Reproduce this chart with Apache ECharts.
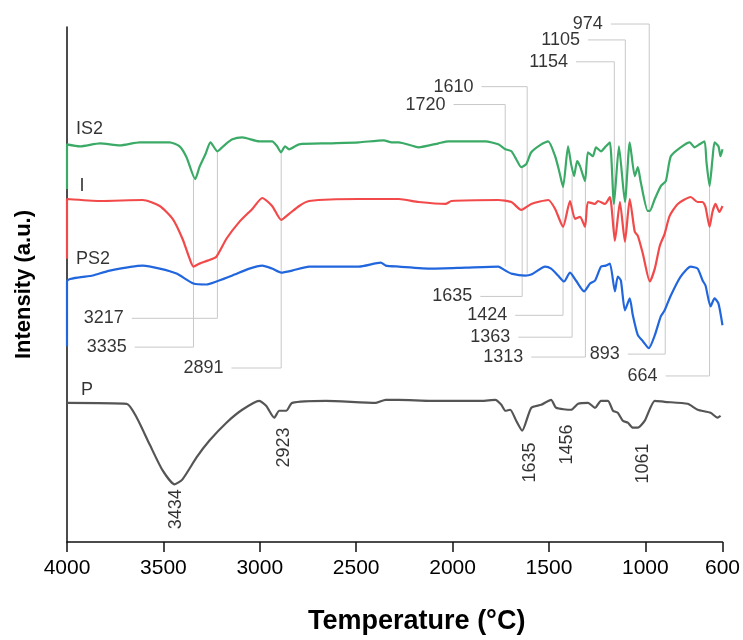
<!DOCTYPE html>
<html>
<head>
<meta charset="utf-8">
<script src="https://cdn.jsdelivr.net/npm/echarts@6/dist/echarts.min.js"></script>
<style>
  html, body { margin: 0; padding: 0; background: #fff; }
  #chart { width: 743px; height: 640px; }
</style>
</head>
<body>
<div id="chart"></div>
<script>
// spectra: [wavenumber, intensity (a.u.)]
var IS2 = [[4000,355],[4000,400],[3933,398],[3829,401],[3726,399],[3623,402],[3468,402],[3416,398],[3380,387],[3335,365],
  [3313,377],[3282,390],[3256,402],[3220,393],[3184,399],[3142,405],[3091,407],[3003,403],[2936,403],[2910,398],
  [2890,392],[2869,398],[2848,395],[2796,400],[2641,401],[2486,402],[2357,404],[2316,402],[2279,402],[2176,397],
  [2073,401],[2021,403],[1933,403],[1830,403],[1763,400],[1726,395],[1695,393],[1670,385],[1644,377],[1618,380],
  [1592,392],[1540,400],[1504,403],[1468,388],[1447,373],[1427,357],[1401,398],[1385,380],[1370,368],[1354,383],
  [1339,378],[1313,363],[1298,392],[1272,388],[1256,397],[1230,393],[1205,398],[1184,402],[1163,340],[1137,398],
  [1106,342],[1081,402],[1055,368],[1039,377],[1024,362],[988,333],[977,333],[951,345],[920,358],[894,363],
  [868,388],[817,397],[770,402],[745,397],[719,400],[693,403],[683,382],[667,358],[652,385],[641,402],
  [621,398],[610,388],[600,395]];

var I = [[4000,285],[4000,345],[3829,343],[3607,344],[3519,338],[3452,325],[3401,305],[3364,285],[3344,277],[3313,280],
  [3271,283],[3225,287],[3173,305],[3106,322],[3039,335],[2987,346],[2936,338],[2889,324],[2848,330],[2796,338],
  [2744,343],[2486,345],[2279,345],[2176,342],[2037,340],[2006,343],[1763,344],[1695,342],[1644,334],[1592,340],
  [1504,344],[1468,335],[1427,317],[1391,343],[1365,325],[1339,327],[1313,317],[1298,342],[1261,340],[1246,343],
  [1210,340],[1184,347],[1158,303],[1132,342],[1106,302],[1081,345],[1055,312],[1039,308],[1013,290],[977,262],
  [951,275],[925,298],[900,310],[874,328],[832,340],[765,347],[729,342],[703,342],[688,337],[667,317],
  [652,332],[636,340],[616,332],[600,338]];

var PS2 = [[4000,197],[4000,262],[3866,268],[3778,273],[3607,278],[3519,275],[3432,270],[3344,260],[3277,259],[3225,262],
  [3142,268],[3054,275],[2987,278],[2936,275],[2889,271],[2832,273],[2744,277],[2486,277],[2372,281],[2347,278],
  [2279,277],[2109,275],[1933,276],[1763,277],[1726,273],[1695,270],[1623,268],[1592,269],[1520,277],[1489,275],
  [1453,268],[1422,262],[1391,271],[1360,263],[1318,252],[1287,260],[1261,263],[1230,277],[1205,278],[1184,280],
  [1158,252],[1143,267],[1127,263],[1106,233],[1081,245],[1065,228],[1039,208],[1013,202],[982,195],[951,208],
  [920,227],[900,233],[868,248],[817,267],[765,277],[729,275],[703,263],[688,258],[662,237],[641,245],
  [621,240],[600,218]];

var P = [[4000,140],[3690,139],[3638,125],[3571,98],[3504,72],[3442,58],[3401,63],[3328,85],[3261,102],[3173,120],
  [3091,133],[3003,142],[2967,137],[2925,125],[2899,132],[2863,132],[2832,140],[2657,142],[2398,140],[2347,143],
  [2279,143],[2109,142],[1850,142],[1778,143],[1747,138],[1726,132],[1701,133],[1670,122],[1639,112],[1592,135],
  [1540,138],[1489,143],[1463,135],[1385,133],[1349,139],[1298,140],[1261,135],[1230,142],[1194,142],[1168,132],
  [1143,130],[1117,122],[1091,120],[1065,115],[1039,115],[1003,122],[951,142],[900,141],[781,139],[729,133],
  [662,130],[626,125],[610,127]];

var xTicks = [4000, 3500, 3000, 2500, 2000, 1500, 1000, 600];

// peak call-outs with leader lines
var annLabels = ['1720','1610','1154','1105','974','1635','1424','1363','1313','893','664','3217','3335','2891'];
var annPeak  = [1727, 1613, 1161, 1104, 980, 1639, 1427, 1380, 1311, 897, 667, 3220, 3344, 2889];
var annFrom  = [277, 270, 302, 263, 195, 377, 357, 370, 363, 362, 358, 393, 365, 392];
var annElbow = [440, 458, 483, 505, 521, 247, 228, 206, 186, 189, 167, 225, 196, 175];
var annEnd   = [1995, 1850, 1360, 1298, 1179, 1856, 1675, 1659, 1592, 1091, 895, 3664, 3649, 3147];

// vertical labels under P
var pLabels = ['3434', '2923', '1635', '1456', '1061'];
var pLabelX = [3437, 2874, 1597, 1406, 1013];
var pLabelY = [33, 95, 80, 98, 79];

var chart = echarts.init(document.getElementById('chart'));

var series = [];
annLabels.forEach(function (t, i) {
  series.push({
    type: 'line',
    data: [[annPeak[i], annFrom[i]], [annPeak[i], annElbow[i]], [annEnd[i], annElbow[i]]],
    symbol: 'none',
    lineStyle: { color: '#c8c8c8', width: 1 },
    clip: false,
    silent: true,
    z: 1
  });
});

var spectra = [
  { name: 'IS2', data: IS2, color: '#3aaa66', tag: [3953, 415] },
  { name: 'I', data: I, color: '#f24a4a', tag: [3935, 358] },
  { name: 'PS2', data: PS2, color: '#2266dd', tag: [3953, 285] },
  { name: 'P', data: P, color: '#555555', tag: [3928, 153] }
];
spectra.forEach(function (s) {
  series.push({
    name: s.name,
    type: 'line',
    data: s.data,
    symbol: 'none',
    smooth: 0.2,
    lineStyle: { color: s.color, width: 2.2 },
    z: 3
  });
});

var txt = '#000';

series.push({
  type: 'scatter',
  symbolSize: 0,
  clip: false,
  silent: true,
  data: spectra.map(function (s) { return { value: s.tag, name: s.name }; }),
  label: { show: true, position: 'right', distance: 0, formatter: '{b}', fontSize: 18, color: txt }
});

series.push({
  type: 'scatter',
  symbolSize: 0,
  clip: false,
  silent: true,
  data: annLabels.map(function (t, i) { return { value: [annEnd[i], annElbow[i]], name: t }; }),
  label: { show: true, position: 'left', distance: 8, formatter: '{b}', fontSize: 18, color: txt }
});

series.push({
  type: 'scatter',
  symbolSize: 0,
  clip: false,
  silent: true,
  data: pLabels.map(function (t, i) { return { value: [pLabelX[i], pLabelY[i]], name: t }; }),
  label: { show: true, position: 'inside', rotate: 90, formatter: '{b}', fontSize: 18, color: txt }
});

chart.setOption({
  animation: false,
  textStyle: { fontFamily: 'Liberation Sans, Arial, sans-serif' },
  grid: { left: 67, right: 18, top: 27, bottom: 95 },
  xAxis: {
    type: 'value',
    inverse: true,
    min: 600,
    max: 4000,
    name: 'Temperature (°C)',
    nameLocation: 'middle',
    nameGap: 66,
    nameTextStyle: { fontSize: 27, fontWeight: 'bold', color: txt, padding: [0, 0, 0, 44] },
    axisLine: { lineStyle: { color: '#111', width: 1.5 } },
    axisTick: { show: true, length: 10, customValues: xTicks, lineStyle: { color: '#111', width: 1.5 } },
    axisLabel: { customValues: xTicks, fontSize: 21, color: txt, margin: 16, formatter: function (v) { return String(v); } },
    splitLine: { show: false }
  },
  yAxis: {
    type: 'value',
    min: 0,
    max: 518,
    name: 'Intensity (a.u.)',
    nameLocation: 'middle',
    nameGap: 32,
    nameTextStyle: { fontSize: 22, fontWeight: 'bold', color: txt },
    axisLine: { show: true, lineStyle: { color: '#111', width: 1.5 } },
    axisTick: { show: false },
    axisLabel: { show: false },
    splitLine: { show: false }
  },
  series: series
});
</script>
</body>
</html>
